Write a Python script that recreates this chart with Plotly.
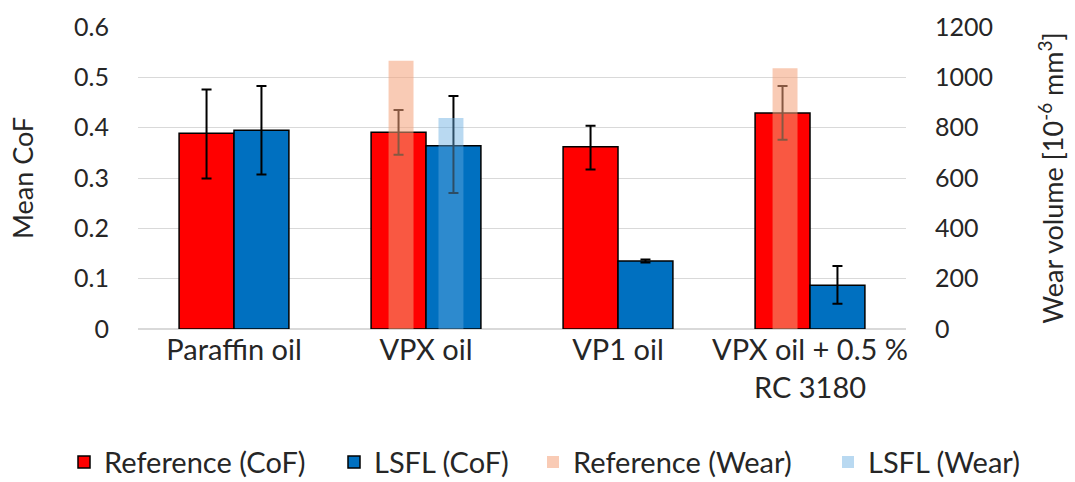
import plotly.graph_objects as go

categories = ["Paraffin oil", "VPX oil", "VP1 oil", "VPX oil + 0.5 %<br>RC 3180"]

ref_cof = [0.389, 0.391, 0.362, 0.429]
ref_cof_err_plus = [0.087, 0.044, 0.042, 0.054]
ref_cof_err_minus = [0.090, 0.045, 0.045, 0.053]

lsfl_cof = [0.395, 0.364, 0.135, 0.087]
lsfl_cof_err_plus = [0.088, 0.099, 0.003, 0.038]
lsfl_cof_err_minus = [0.088, 0.094, 0.003, 0.037]

ref_wear = [None, 1066, None, 1036]
lsfl_wear = [None, 838, None, None]

FONT = "Lato"
fs_text = 29
fs_title = 27
fs_tick = 25

fig = go.Figure()
fig.add_trace(go.Bar(
    x=categories, y=ref_cof, name="Reference (CoF)", legend="legend",
    marker=dict(color="#FF0000", line=dict(color="black", width=1.5)),
    offset=-0.286, width=0.286,
    error_y=dict(type="data", symmetric=False, array=ref_cof_err_plus,
                 arrayminus=ref_cof_err_minus, color="black", thickness=2, width=5),
))
fig.add_trace(go.Bar(
    x=categories, y=lsfl_cof, name="LSFL (CoF)", legend="legend2",
    marker=dict(color="#0070C0", line=dict(color="black", width=1.5)),
    offset=0.0, width=0.286,
    error_y=dict(type="data", symmetric=False, array=lsfl_cof_err_plus,
                 arrayminus=lsfl_cof_err_minus, color="black", thickness=2, width=5),
))
fig.add_trace(go.Bar(
    x=categories, y=ref_wear, name="Reference (Wear)", yaxis="y2", legend="legend3",
    marker=dict(color="rgba(244,160,120,0.55)", line=dict(width=0)),
    offset=-0.195, width=0.13,
))
fig.add_trace(go.Bar(
    x=categories, y=lsfl_wear, name="LSFL (Wear)", yaxis="y2", legend="legend4",
    marker=dict(color="rgba(100,170,225,0.45)", line=dict(width=0)),
    offset=0.065, width=0.13,
))

def leg(xpx):
    return dict(orientation="h", xref="container", x=xpx / 1075, xanchor="left",
                yref="container", y=0.041, yanchor="middle",
                font=dict(size=fs_text), itemwidth=30, bgcolor="rgba(0,0,0,0)")

fig.update_layout(
    width=1075, height=482,
    margin=dict(l=138, r=169, t=27, b=153, autoexpand=False),
    plot_bgcolor="white", paper_bgcolor="white",
    font=dict(family=FONT, size=fs_text, color="#262626"),
    barmode="overlay",
    xaxis=dict(showgrid=False, showline=False, ticks="", ticklabelstandoff=1,
               tickfont=dict(size=fs_text)),
    yaxis=dict(range=[0, 0.6], dtick=0.1, showgrid=True, gridcolor="#D9D9D9",
               gridwidth=1, zeroline=True, zerolinecolor="#D9D9D9", showline=False,
               ticklabelstandoff=28, tickfont=dict(size=fs_tick),
               title=dict(text="Mean CoF", standoff=32, font=dict(size=fs_title))),
    yaxis2=dict(range=[0, 1200], dtick=200, overlaying="y", side="right",
                showgrid=False, zeroline=False, showline=False,
                ticklabelstandoff=28, tickfont=dict(size=fs_tick),
                title=dict(text="Wear volume [10<sup>-6</sup> mm<sup>3</sup>]",
                           standoff=52, font=dict(size=fs_title))),
    legend=leg(64),
    legend2=leg(334),
    legend3=leg(533),
    legend4=leg(828),
    showlegend=True,
)

fig.write_html("out.html")
